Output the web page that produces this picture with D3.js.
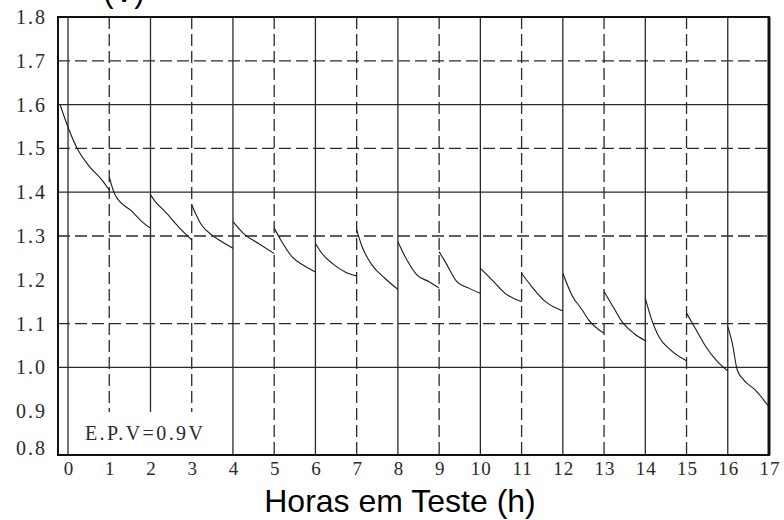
<!DOCTYPE html>
<html><head><meta charset="utf-8">
<script src="https://cdn.jsdelivr.net/npm/d3@7"></script>
<style>html,body{margin:0;padding:0;background:#fff;} svg{display:block}</style>
</head><body><svg id="c" width="784" height="520"></svg>
<script>
// ---- data ----
const xTickLabels = ["0","1","2","3","4","5","6","7","8","9","10","11","12","13","14","15","16","17"];
const yTickValues = [0.8, 0.9, 1.0, 1.1, 1.2, 1.3, 1.4, 1.5, 1.6, 1.7, 1.8];
const yTickLabels = ["0.8","0.9","1.0","1.1","1.2","1.3","1.4","1.5","1.6","1.7","1.8"];
const solidGridX = [0, 2, 4, 6, 8, 10, 12, 14, 16];
const dashedGridX = [1, 3, 5, 7, 9, 11, 13, 15];
const solidGridY = [1.6, 1.4, 1.0];
const dashedGridY = [1.7, 1.5, 1.3, 1.1];
const segHours = [
  [-0.19, 0.01, 0.21, 0.49, 0.82, 1.0],
  [1.0, 1.14, 1.55, 1.79, 2.0],
  [2.0, 2.12, 2.35, 2.68, 3.0],
  [3.0, 3.24, 3.49, 3.73, 4.0],
  [4.0, 4.3, 4.62, 5.0],
  [5.0, 5.16, 5.43, 5.75, 6.0],
  [6.0, 6.16, 6.4, 6.72, 7.0],
  [7.0, 7.13, 7.37, 7.69, 8.0],
  [8.0, 8.22, 8.46, 8.75, 9.0],
  [9.0, 9.15, 9.43, 9.72, 10.0],
  [10.0, 10.28, 10.6, 11.0],
  [11.0, 11.25, 11.58, 12.0],
  [12.0, 12.22, 12.47, 12.63, 13.0],
  [13.0, 13.24, 13.44, 13.72, 14.0],
  [14.0, 14.13, 14.33, 14.61, 15.0],
  [15.0, 15.19, 15.47, 15.75, 16.0],
  [16.0, 16.11, 16.23, 16.39, 16.67, 17.0]
];
const segVolts = [
  [1.599, 1.546, 1.502, 1.462, 1.428, 1.405],
  [1.435, 1.394, 1.356, 1.333, 1.318],
  [1.394, 1.378, 1.356, 1.321, 1.291],
  [1.371, 1.325, 1.302, 1.287, 1.272],
  [1.333, 1.302, 1.283, 1.260],
  [1.318, 1.291, 1.253, 1.231, 1.218],
  [1.283, 1.260, 1.238, 1.218, 1.209],
  [1.314, 1.276, 1.234, 1.203, 1.178],
  [1.287, 1.245, 1.211, 1.196, 1.181],
  [1.264, 1.241, 1.196, 1.181, 1.169],
  [1.226, 1.200, 1.169, 1.150],
  [1.215, 1.184, 1.150, 1.129],
  [1.215, 1.165, 1.131, 1.108, 1.078],
  [1.173, 1.135, 1.104, 1.078, 1.061],
  [1.158, 1.116, 1.070, 1.040, 1.015],
  [1.124, 1.093, 1.047, 1.013, 0.992],
  [1.093, 1.055, 0.994, 0.971, 0.948, 0.910]
];
const noteText = "E.P.V=0.9V";
const xTitle = "Horas em Teste (h)";
const yTitle = "(V)";

// ---- drawing ----
const svg = d3.select("#c");
const x = d3.scaleLinear().domain([-0.243, 17]).range([58, 769]);
const y = d3.scaleLinear().domain([0.8, 1.8]).range([455, 17]);
const ink = "#2a2a2a";
const serif = "Liberation Serif, Times New Roman, serif";

const grid = svg.append("g");
grid.selectAll("line.vs").data(solidGridX).join("line")
  .attr("x1", d => x(d)).attr("x2", d => x(d))
  .attr("y1", y(1.8)).attr("y2", y(0.8))
  .attr("stroke", ink).attr("stroke-width", 1.3);
grid.selectAll("line.vd").data(dashedGridX).join("line")
  .attr("x1", d => x(d)).attr("x2", d => x(d))
  .attr("y1", y(1.8)).attr("y2", y(0.8))
  .attr("stroke", ink).attr("stroke-width", 1.3).attr("stroke-dasharray", "12,5");
grid.selectAll("line.hs").data(solidGridY).join("line")
  .attr("x1", x(-0.243)).attr("x2", x(17))
  .attr("y1", d => y(d)).attr("y2", d => y(d))
  .attr("stroke", ink).attr("stroke-width", 1.3);
grid.selectAll("line.hd").data(dashedGridY).join("line")
  .attr("x1", x(-0.243)).attr("x2", x(17))
  .attr("y1", d => y(d)).attr("y2", d => y(d))
  .attr("stroke", ink).attr("stroke-width", 1.3).attr("stroke-dasharray", "12,5");

const line = d3.line().x(d => x(d[0])).y(d => y(d[1])).curve(d3.curveMonotoneX);
svg.append("g").selectAll("path").data(segHours.map((hs, i) => hs.map((h, j) => [h, segVolts[i][j]])))
  .join("path").attr("d", line)
  .attr("fill", "none").attr("stroke", "#1a1a1a").attr("stroke-width", 1.1);

// note box
svg.append("rect").attr("x", x(0) + 2).attr("y", 412).attr("width", 154).attr("height", 42).attr("fill", "#fff");
svg.append("text").attr("x", 85).attr("y", 440)
  .attr("font-family", serif).attr("font-size", 20)
  .attr("letter-spacing", 2.4).attr("fill", ink).text(noteText);

// frame
svg.append("rect").attr("x", x(-0.243)).attr("y", y(1.8))
  .attr("width", x(17) - x(-0.243)).attr("height", y(0.8) - y(1.8))
  .attr("fill", "none").attr("stroke", "#111").attr("stroke-width", 2);
svg.append("line").attr("x1", x(17)).attr("x2", x(17)).attr("y1", y(1.8)).attr("y2", y(0.8))
  .attr("stroke", "#111").attr("stroke-width", 3);

// y tick labels
svg.append("g").selectAll("text").data(yTickValues).join("text")
  .attr("x", 47).attr("y", (d, i) => y(d) + (i === 0 ? -7 : 0))
  .attr("dy", "0.35em").attr("text-anchor", "end")
  .attr("font-family", serif).attr("font-size", 20)
  .attr("letter-spacing", 2).attr("fill", ink)
  .text((d, i) => yTickLabels[i]);

// x tick labels
svg.append("g").selectAll("text").data(xTickLabels).join("text")
  .attr("x", (d, i) => x(i) + 1).attr("y", 475)
  .attr("text-anchor", "middle")
  .attr("font-family", serif).attr("font-size", 19)
  .attr("letter-spacing", 1).attr("fill", ink)
  .text(d => d);

// titles
svg.append("text").attr("x", 400).attr("y", 512).attr("text-anchor", "middle")
  .attr("font-family", "Liberation Sans, Arial, sans-serif").attr("font-size", 32)
  .attr("fill", "#000").text(xTitle);
svg.append("text").attr("x", 124).attr("y", 2).attr("text-anchor", "middle")
  .attr("font-family", "Liberation Sans, Arial, sans-serif").attr("font-size", 31)
  .attr("fill", "#000").text(yTitle);
</script></body></html>
